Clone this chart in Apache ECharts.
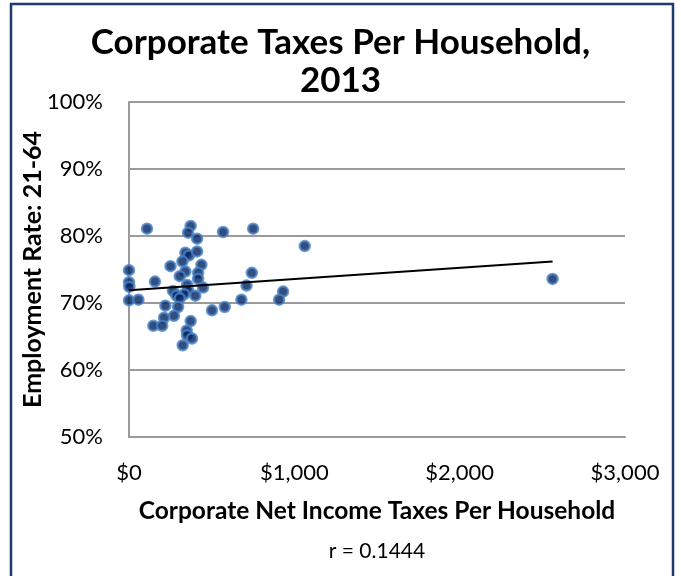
<!DOCTYPE html>
<html>
<head>
<meta charset="utf-8">
<script src="https://cdn.jsdelivr.net/npm/echarts@6/dist/echarts.min.js"></script>
<style>
  html, body { margin: 0; padding: 0; background: #ffffff; }
  #chart { width: 681px; height: 576px; }
</style>
</head>
<body>
<div id="chart"></div>
<script>
// Corporate net income taxes per household (USD) and employment rate, ages 21-64 (%)
const taxesPerHousehold = [
  109, 373, 357, 412, 569, 751, 1063, 341, 363, 412,
  323, 251, 438, 341, 307, 418, 418, 0, 0, 2,
  157, 743, 711, 932, 908, 680, 0, 57, 266, 352,
  357, 333, 287, 307, 401, 448, 220, 297, 502, 579,
  272, 212, 147, 201, 373, 349, 351, 381, 325, 2562
];
const employmentRate = [
  81.1, 81.5, 80.5, 79.6, 80.6, 81.1, 78.5, 77.5, 77.1, 77.7,
  76.2, 75.5, 75.7, 74.7, 74.0, 74.5, 73.6, 74.9, 73.1, 72.4,
  73.2, 74.5, 72.6, 71.7, 70.5, 70.5, 70.4, 70.5, 71.8, 72.7,
  71.9, 71.3, 71.1, 70.7, 71.1, 72.3, 69.6, 69.4, 68.9, 69.4,
  68.1, 67.8, 66.6, 66.6, 67.3, 65.9, 65.2, 64.7, 63.7, 73.6
];
// Linear trend line end points
const trendX = [0, 2562];
const trendY = [71.9, 76.2];
const correlationText = 'r = 0.1444';

const titleLines = ['Corporate Taxes Per Household,', '2013'];
const xAxisTitle = 'Corporate Net Income Taxes Per Household';
const yAxisTitle = 'Employment Rate: 21-64';

const FONT = 'Lato, "Open Sans", sans-serif';

const points = taxesPerHousehold.map((x, i) => [x, employmentRate[i]]);
const trend = trendX.map((x, i) => [x, trendY[i]]);

const chart = echarts.init(document.getElementById('chart'), null, { renderer: 'canvas' });

chart.setOption({
  backgroundColor: '#ffffff',
  animation: false,
  title: {
    text: titleLines.join('\n'),
    left: 'center',
    top: 19,
    textStyle: {
      fontFamily: FONT,
      fontWeight: 'bold',
      fontSize: 35,
      lineHeight: 38,
      color: '#000000'
    }
  },
  grid: {
    left: 129,
    right: 56,
    top: 102,
    bottom: 139,
    containLabel: false
  },
  xAxis: {
    type: 'value',
    min: 0,
    max: 3000,
    interval: 1000,
    name: xAxisTitle,
    nameLocation: 'middle',
    nameGap: 62,
    nameMoveOverlap: false,
    nameTextStyle: {
      fontFamily: FONT,
      fontWeight: 'bold',
      fontSize: 24.5,
      color: '#000000'
    },
    axisLine: { show: true, lineStyle: { color: '#9a9a9a', width: 2 } },
    axisTick: { show: false },
    splitLine: { show: false },
    axisLabel: {
      margin: 25,
      fontFamily: FONT,
      fontSize: 22,
      color: '#000000',
      formatter: v => '$' + v.toLocaleString('en-US')
    }
  },
  yAxis: {
    type: 'value',
    min: 50,
    max: 100,
    interval: 10,
    name: yAxisTitle,
    nameLocation: 'middle',
    nameGap: 84,
    nameRotate: 90,
    nameMoveOverlap: false,
    nameTextStyle: {
      fontFamily: FONT,
      fontWeight: 'bold',
      fontSize: 25,
      color: '#000000'
    },
    axisLine: { show: true, lineStyle: { color: '#9a9a9a', width: 2 } },
    axisTick: { show: false },
    splitLine: { show: true, lineStyle: { color: '#9a9a9a', width: 2 } },
    axisLabel: {
      margin: 26,
      fontFamily: FONT,
      fontSize: 22,
      color: '#000000',
      formatter: '{value}%'
    }
  },
  series: [
    {
      type: 'scatter',
      data: points,
      symbol: 'circle',
      symbolSize: 10,
      z: 2,
      itemStyle: {
        color: '#00215e',
        borderColor: '#4a82c4',
        borderWidth: 2.5
      }
    },
    {
      type: 'line',
      data: trend,
      symbol: 'none',
      z: 3,
      lineStyle: { color: '#000000', width: 2 }
    }
  ],
  graphic: [
    {
      type: 'rect',
      shape: { x: 11, y: 4, width: 662, height: 600 },
      style: { fill: 'none', stroke: '#1f3a6e', lineWidth: 2.5 },
      silent: true
    },
    {
      type: 'text',
      x: 377,
      y: 551,
      style: {
        text: correlationText,
        font: '21px ' + FONT,
        fill: '#000000',
        align: 'center',
        verticalAlign: 'middle'
      }
    }
  ]
});
</script>
</body>
</html>
